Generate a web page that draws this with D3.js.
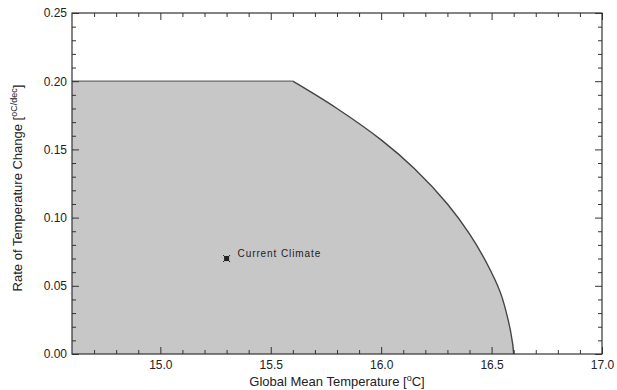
<!DOCTYPE html>
<html>
<head>
<meta charset="utf-8">
<script src="https://cdn.jsdelivr.net/npm/d3@7"></script>
<style>
  html, body { margin: 0; padding: 0; background: #fff; }
  svg { display: block; }
  text { font-family: "Liberation Sans", Arial, sans-serif; }
</style>
</head>
<body>
<svg id="chart" width="617" height="390"></svg>
<script>
// ---- data ----
const xDomain = [14.6, 17.0];
const yDomain = [0.0, 0.25];
const xMajorTicks = [15.0, 15.5, 16.0, 16.5, 17.0];
const yMajorTicks = [0.00, 0.05, 0.10, 0.15, 0.20, 0.25];
const boundaryTemps = [15.6, 15.8, 16.0, 16.15, 16.3, 16.4, 16.48, 16.54, 16.575, 16.595, 16.6];
const boundaryRates = [0.200, 0.180, 0.157, 0.136, 0.110, 0.088, 0.066, 0.045, 0.025, 0.008, 0.0];
const plateauStartTemp = 14.6;
const plateauRate = 0.20;
const currentTemp = [15.3];
const currentRate = [0.07];
const currentLabel = ["Current Climate"];
const xTitle = "Global Mean Temperature [";
const yTitle = "Rate of Temperature Change [";

// ---- layout ----
const svg = d3.select("#chart");
const L = 72, R = 602, T = 13, B = 354;
const x = d3.scaleLinear().domain(xDomain).range([L, R]);
const y = d3.scaleLinear().domain(yDomain).range([B, T]);

// minor ticks
const xMinor = d3.range(0, 25).map(i => +(14.6 + i * 0.1).toFixed(2)).filter(v => v > 14.6 && !xMajorTicks.some(m => Math.abs(m - v) < 1e-6));
const yMinor = d3.range(1, 25).map(i => +(i * 0.01).toFixed(2)).filter(v => !yMajorTicks.some(m => Math.abs(m - v) < 1e-6));

// ---- filled region ----
const curvePts = boundaryTemps.map((t, i) => [x(t), y(boundaryRates[i])]);
const curvePath = d3.line().curve(d3.curveCatmullRom.alpha(0.5))(curvePts);
const regionPath = curvePath +
  "L" + x(plateauStartTemp) + "," + y(0) +
  "L" + x(plateauStartTemp) + "," + y(plateauRate) + "Z";
svg.append("path").attr("d", regionPath).attr("fill", "#c7c7c7").attr("stroke", "none");
// boundary lines
svg.append("path")
  .attr("d", d3.line()([[x(plateauStartTemp), y(plateauRate)], [x(boundaryTemps[0]), y(boundaryRates[0])]]))
  .attr("fill", "none").attr("stroke", "#666").attr("stroke-width", 1.3);
svg.append("path").attr("d", curvePath)
  .attr("fill", "none").attr("stroke", "#444").attr("stroke-width", 1.4);

// ---- axes ----
function styleAxis(g) {
  g.select(".domain").remove();
  g.selectAll(".tick line").attr("stroke", "#333").attr("stroke-width", 1);
  g.selectAll(".tick text").attr("fill", "#222").style("font-size", "12px")
   .style("font-family", "'Liberation Sans', Arial, sans-serif");
}
// bottom
svg.append("g").attr("transform", `translate(0,${B})`)
  .call(d3.axisBottom(x).tickValues(xMajorTicks).tickFormat(d3.format(".1f")).tickSizeInner(-7).tickSizeOuter(0).tickPadding(6))
  .call(styleAxis);
svg.append("g").attr("transform", `translate(0,${B})`)
  .call(d3.axisBottom(x).tickValues(xMinor).tickFormat("").tickSizeInner(-4).tickSizeOuter(0))
  .call(styleAxis);
// top
svg.append("g").attr("transform", `translate(0,${T})`)
  .call(d3.axisTop(x).tickValues(xMajorTicks).tickFormat("").tickSizeInner(-7).tickSizeOuter(0))
  .call(styleAxis);
svg.append("g").attr("transform", `translate(0,${T})`)
  .call(d3.axisTop(x).tickValues(xMinor).tickFormat("").tickSizeInner(-4).tickSizeOuter(0))
  .call(styleAxis);
// left
svg.append("g").attr("transform", `translate(${L},0)`)
  .call(d3.axisLeft(y).tickValues(yMajorTicks).tickFormat(d3.format(".2f")).tickSizeInner(-7).tickSizeOuter(0).tickPadding(5))
  .call(styleAxis);
svg.append("g").attr("transform", `translate(${L},0)`)
  .call(d3.axisLeft(y).tickValues(yMinor).tickFormat("").tickSizeInner(-4).tickSizeOuter(0))
  .call(styleAxis);
// right
svg.append("g").attr("transform", `translate(${R},0)`)
  .call(d3.axisRight(y).tickValues(yMajorTicks).tickFormat("").tickSizeInner(-7).tickSizeOuter(0))
  .call(styleAxis);
svg.append("g").attr("transform", `translate(${R},0)`)
  .call(d3.axisRight(y).tickValues(yMinor).tickFormat("").tickSizeInner(-4).tickSizeOuter(0))
  .call(styleAxis);

// frame
svg.append("rect").attr("x", L).attr("y", T).attr("width", R - L).attr("height", B - T)
  .attr("fill", "none").attr("stroke", "#333").attr("stroke-width", 1.2);

// ---- current climate marker ----
const cx = x(currentTemp[0]), cy = y(currentRate[0]);
svg.append("rect").attr("x", cx - 2.5).attr("y", cy - 2.5).attr("width", 5).attr("height", 5).attr("fill", "#222");
svg.append("path").attr("d", `M${cx-3.5},${cy-3.5}L${cx+3.5},${cy+3.5}M${cx-3.5},${cy+3.5}L${cx+3.5},${cy-3.5}`)
  .attr("stroke", "#222").attr("stroke-width", 1);
svg.append("text").attr("x", cx + 11).attr("y", cy - 2)
  .style("font-size", "10px").style("letter-spacing", "0.9px").attr("fill", "#222")
  .text(currentLabel[0]);

// ---- titles ----
const xt = svg.append("text").attr("x", (L + R) / 2 + 0).attr("y", 386)
  .attr("text-anchor", "middle").style("font-size", "13px").attr("fill", "#222");
xt.append("tspan").text(xTitle);
xt.append("tspan").attr("dy", -5).style("font-size", "9px").text("o");
xt.append("tspan").attr("dy", 5).text("C]");

const yt = svg.append("text").attr("transform", "translate(22,188) rotate(-90)")
  .attr("text-anchor", "middle").style("font-size", "13px").attr("fill", "#222");
yt.append("tspan").text(yTitle);
yt.append("tspan").attr("dy", -5).style("font-size", "9px").text("oC/dec");
yt.append("tspan").attr("dy", 5).text("]");
</script>
</body>
</html>
